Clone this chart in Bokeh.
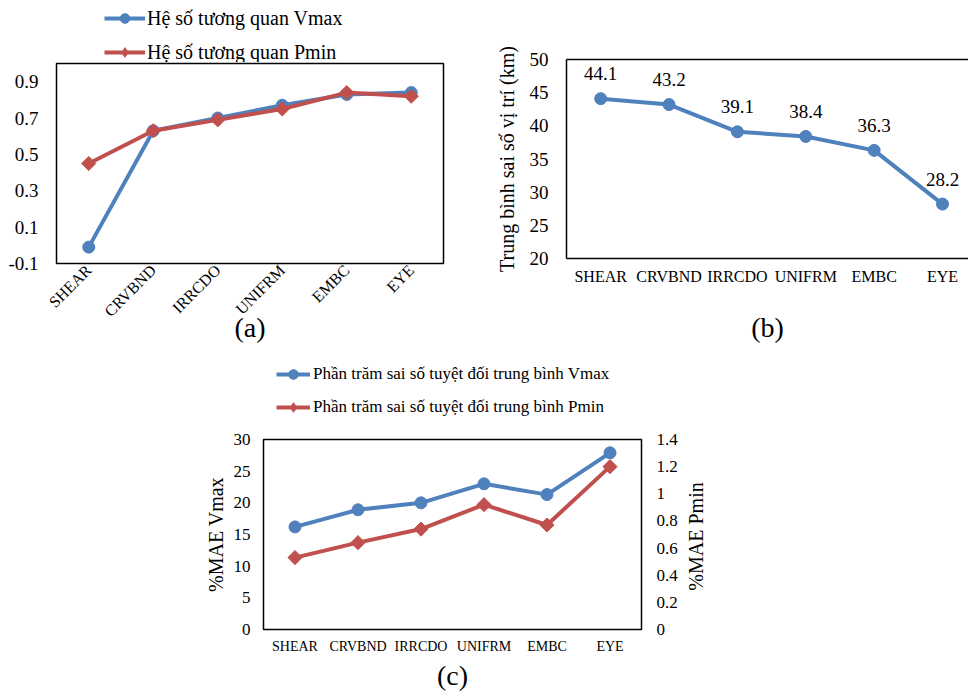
import math
from bokeh.plotting import figure
from bokeh.layouts import row, column
from bokeh.models import (Range1d, FixedTicker, LinearAxis, Legend, LegendItem,
                          LabelSet, ColumnDataSource)
from bokeh.core.properties import value
from bokeh.embed import file_html
from bokeh.resources import INLINE

# ---------------- data ----------------
categories = ["SHEAR", "CRVBND", "IRRCDO", "UNIFRM", "EMBC", "EYE"]

# (a) correlation coefficients
corr_vmax = [-0.01, 0.63, 0.70, 0.77, 0.83, 0.84]
corr_pmin = [0.45, 0.63, 0.69, 0.75, 0.84, 0.82]
a_ticks = [-0.1, 0.1, 0.3, 0.5, 0.7, 0.9]
a_tick_labels = ["-0.1", "0.1", "0.3", "0.5", "0.7", "0.9"]
a_series = ["Hệ số tương quan Vmax", "Hệ số tương quan Pmin"]

# (b) mean position error (km)
pos_err = [44.1, 43.2, 39.1, 38.4, 36.3, 28.2]
b_ticks = [20, 25, 30, 35, 40, 45, 50]

# (c) MAPE
mae_vmax = [16.2, 18.9, 20.0, 23.0, 21.3, 27.9]
mae_pmin = [0.53, 0.64, 0.74, 0.92, 0.77, 1.20]
c_left_ticks = [0, 5, 10, 15, 20, 25, 30]
c_right_ticks = [0, 0.2, 0.4, 0.6, 0.8, 1.0, 1.2, 1.4]
c_right_labels = ["0", "0.2", "0.4", "0.6", "0.8", "1", "1.2", "1.4"]
c_series = ["Phần trăm sai số tuyệt đối trung bình Vmax",
            "Phần trăm sai số tuyệt đối trung bình Pmin"]

BLUE = "#4F81BD"
RED = "#C0504D"
FONT = "Liberation Serif"

xs = list(range(len(categories)))
cat_labels = {i: c for i, c in enumerate(categories)}


def base_fig(width, height, left, right, top, bottom, x_end=5.5):
    p = figure(width=width, height=height, output_backend="svg",
               toolbar_location=None, x_range=Range1d(-0.5, x_end),
               min_border_left=left, min_border_right=right,
               min_border_top=top, min_border_bottom=bottom)
    p.xgrid.visible = False
    p.ygrid.visible = False
    p.background_fill_color = "white"
    p.border_fill_color = "white"
    p.outline_line_color = "black"
    p.outline_line_width = 1.5
    return p


def style_axis(ax, size):
    ax.axis_line_color = None
    ax.major_tick_line_color = None
    ax.minor_tick_line_color = None
    ax.major_tick_out = 0
    ax.major_tick_in = 0
    ax.minor_tick_out = 0
    ax.minor_tick_in = 0
    ax.major_label_text_font = FONT
    ax.major_label_text_font_size = size
    ax.major_label_text_color = "black"
    ax.axis_label_text_font = FONT
    ax.axis_label_text_font_style = "normal"
    ax.axis_label_text_color = "black"


def caption(ax, text, standoff):
    ax.axis_label = text
    ax.axis_label_text_font_size = "28px"
    ax.axis_label_standoff = standoff


def add_series(p, src, fields, right_name=None, red_marker="square", red_angle=math.pi / 4):
    """Draw the two series (blue circles, red diamonds) of a panel."""
    kw2 = {} if right_name is None else {"y_range_name": right_name}
    r1 = p.line("x", fields[0], source=src, color=BLUE, line_width=4)
    m1 = p.scatter("x", fields[0], source=src, marker="circle", size=12, color=BLUE)
    r2 = p.line("x", fields[1], source=src, color=RED, line_width=4, **kw2)
    m2 = p.scatter("x", fields[1], source=src, marker=red_marker, angle=red_angle,
                   size=10, color=RED, **kw2)
    return [r1, m1], [r2, m2]


def blank_fig(width, height, left=0, right=0, top=0, bottom=0):
    f = figure(width=width, height=height, output_backend="svg",
               toolbar_location=None, x_range=Range1d(1000, 1001),
               y_range=Range1d(1000, 1001),
               x_axis_location=None, y_axis_location=None,
               min_border_left=left, min_border_right=right,
               min_border_top=top, min_border_bottom=bottom)
    f.xgrid.visible = False
    f.ygrid.visible = False
    f.outline_line_color = None
    f.border_fill_color = "white"
    f.background_fill_color = "white"
    return f


def legend_fig(width, height, src, fields, labels, loc, glyph_w, spacing,
               font_size, standoff):
    # a strip above the panel that only shows the legend (view kept off the data)
    lf = blank_fig(width, height)
    g1, g2 = add_series(lf, src, fields, red_marker="diamond", red_angle=0)
    leg = Legend(items=[LegendItem(label=labels[0], renderers=g1),
                        LegendItem(label=labels[1], renderers=g2)],
                 location=loc, orientation="vertical", glyph_width=glyph_w,
                 glyph_height=24, label_height=24, spacing=spacing, padding=0,
                 margin=0, label_standoff=standoff, label_text_font=FONT,
                 label_text_font_size=font_size, label_text_color="black",
                 border_line_color=None, background_fill_alpha=0)
    lf.add_layout(leg)
    return lf


# ---------------- (a) ----------------
src_a = ColumnDataSource(dict(x=xs, v=corr_vmax, p=corr_pmin))
leg_a = legend_fig(480, 62, src_a, ["v", "p"], a_series, (48, -2), 41, 10, "20px", 2)

fa = base_fig(480, 283, 56, 37, 1, 78)
fa.y_range = Range1d(-0.1, 1.0)
add_series(fa, src_a, ["v", "p"])
xa = fa.xaxis[0]
ya = fa.yaxis[0]
style_axis(xa, "16px")
style_axis(ya, "19px")
xa.ticker = FixedTicker(ticks=xs)
xa.major_label_overrides = cat_labels
xa.major_label_orientation = math.pi / 4
xa.major_label_standoff = 4
caption(xa, "(a)", -17)
ya.ticker = FixedTicker(ticks=a_ticks)
ya.major_label_overrides = dict(zip(a_ticks, a_tick_labels))
ya.major_label_standoff = 18

# ---------------- (b) ----------------
fb = base_fig(488, 345, 86, 0, 59, 83, x_end=5.38)
fb.outline_line_color = None
fb.y_range = Range1d(20, 50)
src_b = ColumnDataSource(dict(x=xs, y=pos_err, t=[f"{v:.1f}" for v in pos_err]))
fb.line("x", "y", source=src_b, color=BLUE, line_width=4)
fb.scatter("x", "y", source=src_b, marker="circle", size=12, color=BLUE)
fb.add_layout(LabelSet(x="x", y="y", text="t", source=src_b, y_offset=25,
                       text_align="center", text_baseline="middle",
                       text_font=value(FONT), text_font_size=value("19px"),
                       text_color="black"))
xb = fb.xaxis[0]
yb = fb.yaxis[0]
style_axis(xb, "16px")
style_axis(yb, "19px")
xb.axis_line_color = "black"
xb.axis_line_width = 1.5
yb.axis_line_color = "black"
yb.axis_line_width = 1.5
xb.ticker = FixedTicker(ticks=xs)
xb.major_label_overrides = cat_labels
xb.major_label_standoff = 9
caption(xb, "(b)", 24)
yb.ticker = FixedTicker(ticks=b_ticks)
yb.major_label_standoff = 18
yb.axis_label = "Trung bình sai số vị trí (km)"
yb.axis_label_text_font_size = "20px"
yb.axis_label_standoff = 9
top_b = LinearAxis(ticker=FixedTicker(ticks=[]), axis_line_color="black",
                   axis_line_width=1.5, major_tick_line_color=None,
                   minor_tick_line_color=None, major_tick_out=0, minor_tick_out=0,
                   major_label_text_font_size="0px")
fb.add_layout(top_b, "above")

# ---------------- (c) ----------------
src_c = ColumnDataSource(dict(x=xs, v=mae_vmax, p=mae_pmin))
leg_c = legend_fig(680, 82, src_c, ["v", "p"], c_series, (13, 8), 34, 9, "17px", 3)

fc = base_fig(680, 266, 263, 38, 12, 60)
fc.y_range = Range1d(0, 30)
fc.extra_y_ranges = {"pmin": Range1d(0, 1.4)}
add_series(fc, src_c, ["v", "p"], right_name="pmin")
xc = fc.xaxis[0]
yc = fc.yaxis[0]
style_axis(xc, "14px")
style_axis(yc, "17px")
xc.ticker = FixedTicker(ticks=xs)
xc.major_label_overrides = cat_labels
xc.major_label_standoff = 9
caption(xc, "(c)", 3)
yc.ticker = FixedTicker(ticks=c_left_ticks)
yc.major_label_standoff = 13
yc.axis_label = "%MAE Vmax"
yc.axis_label_text_font_size = "20px"
yc.axis_label_standoff = 4
rc = LinearAxis(y_range_name="pmin", ticker=FixedTicker(ticks=c_right_ticks))
style_axis(rc, "17px")
rc.major_label_overrides = dict(zip(c_right_ticks, c_right_labels))
rc.major_label_standoff = 15
fc.add_layout(rc, "right")

# title of the right-hand (Pmin) axis, written bottom-to-top like the left one
fr = blank_fig(288, 348, left=26, top=94, bottom=60)
fr.y_range = Range1d(0, 1.4)
lab_r = LinearAxis(ticker=FixedTicker(ticks=[]), axis_label="%MAE Pmin")
style_axis(lab_r, "17px")
lab_r.major_label_standoff = 0
lab_r.axis_label_standoff = 0
lab_r.axis_label_text_font_size = "20px"
fr.add_layout(lab_r, "left")

layout = column(row(column(leg_a, fa), fb), row(column(leg_c, fc), fr))
open("out.html", "w").write(file_html(layout, INLINE))
